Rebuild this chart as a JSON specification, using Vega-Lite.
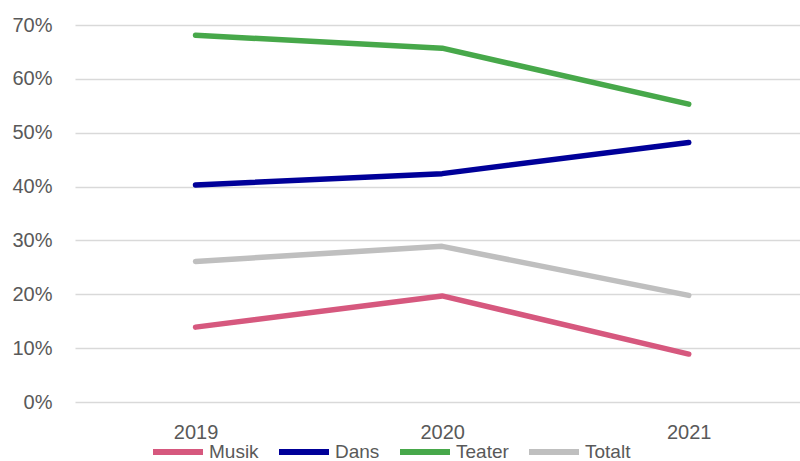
{
  "$schema": "https://vega.github.io/schema/vega-lite/v6.json",
  "width": 725,
  "height": 377,
  "autosize": {"type": "none"},
  "padding": {"left": 75, "top": 25, "right": 0, "bottom": 59},
  "background": "white",
  "config": {"view": {"stroke": null}, "font": "Liberation Sans"},
  "data": {"values": [
    {"year": "2019", "cat": "Musik", "v": 0.139},
    {"year": "2020", "cat": "Musik", "v": 0.197},
    {"year": "2021", "cat": "Musik", "v": 0.089},
    {"year": "2019", "cat": "Dans", "v": 0.403},
    {"year": "2020", "cat": "Dans", "v": 0.424},
    {"year": "2021", "cat": "Dans", "v": 0.482},
    {"year": "2019", "cat": "Teater", "v": 0.681},
    {"year": "2020", "cat": "Teater", "v": 0.657},
    {"year": "2021", "cat": "Teater", "v": 0.553},
    {"year": "2019", "cat": "Totalt", "v": 0.261},
    {"year": "2020", "cat": "Totalt", "v": 0.289},
    {"year": "2021", "cat": "Totalt", "v": 0.198}
  ]},
  "mark": {"type": "line", "strokeWidth": 5.5, "strokeCap": "round", "strokeJoin": "round"},
  "encoding": {
    "x": {"field": "year", "type": "ordinal", "title": null,
      "scale": {"type": "point", "padding": 0.47, "align": 0.52},
      "axis": {"domain": false, "ticks": false, "grid": false, "labelAngle": 0, "labelFontSize": 20, "labelColor": "#595959", "labelPadding": 20}},
    "y": {"field": "v", "type": "quantitative", "title": null,
      "scale": {"domain": [0, 0.7], "nice": false},
      "axis": {"format": ".0%", "values": [0, 0.1, 0.2, 0.3, 0.4, 0.5, 0.6, 0.7], "domain": false, "ticks": false, "gridColor": "#D9D9D9", "gridWidth": 1.5, "labelFontSize": 20, "labelColor": "#595959", "labelPadding": 23}},
    "color": {"field": "cat", "type": "nominal", "title": null,
      "scale": {"domain": ["Musik", "Dans", "Teater", "Totalt"], "range": ["#D6587E", "#000099", "#47A84A", "#BFBFBF"]},
      "legend": {"orient": "none", "legendX": 75, "legendY": 399, "direction": "horizontal", "columns": 4, "padding": 0,
        "symbolType": "stroke", "symbolSize": 2500, "symbolStrokeWidth": 6, "labelFontSize": 19, "labelColor": "#595959", "labelOffset": 3, "columnPadding": 8}}
  }
}
